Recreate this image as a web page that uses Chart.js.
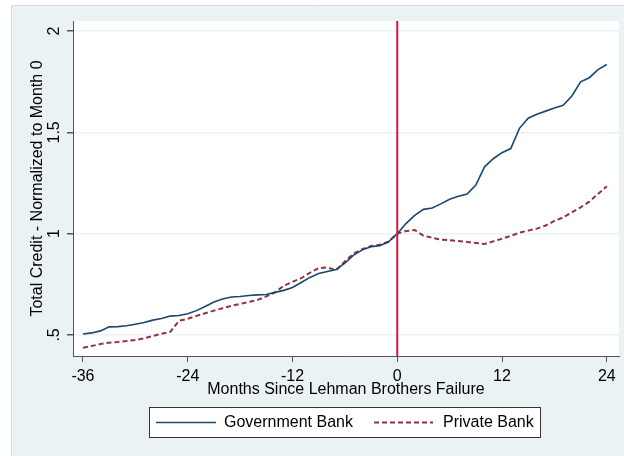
<!DOCTYPE html>
<html>
<head>
<meta charset="utf-8">
<script src="https://cdn.jsdelivr.net/npm/chart.js@4"></script>
<style>
  html, body { margin: 0; padding: 0; background: #fff; }
  canvas { display: block; }
</style>
</head>
<body>
<canvas id="grafico" width="624" height="456"></canvas>
<script>
// dados
const months = [
  -36, -35, -34, -33, -32, -31, -30, -29, -28, -27, -26, -25,
  -24, -23, -22, -21, -20, -19, -18, -17, -16, -15, -14, -13,
  -12, -11, -10, -9, -8, -7, -6, -5, -4, -3, -2, -1,
  0, 1, 2, 3, 4, 5, 6, 7, 8, 9, 10, 11,
  12, 13, 14, 15, 16, 17, 18, 19, 20, 21, 22, 23, 24
];
const govBank = [
  0.505, 0.51, 0.52, 0.54, 0.541, 0.545, 0.553, 0.561, 0.573, 0.581, 0.593, 0.596,
  0.605, 0.62, 0.64, 0.663, 0.677, 0.687, 0.69, 0.695, 0.698, 0.70, 0.71, 0.72,
  0.734, 0.759, 0.784, 0.803, 0.813, 0.823, 0.855, 0.894, 0.92, 0.936, 0.94, 0.96,
  1.0, 1.05, 1.09, 1.12, 1.127, 1.147, 1.17, 1.185, 1.196, 1.24, 1.33, 1.37,
  1.40, 1.42, 1.52, 1.57, 1.59, 1.605, 1.62, 1.634, 1.68, 1.75, 1.77, 1.81, 1.835
];
const privBank = [
  0.437, 0.445, 0.455, 0.462, 0.465, 0.47, 0.475, 0.483, 0.495, 0.506, 0.515, 0.57,
  0.58, 0.594, 0.607, 0.62, 0.632, 0.644, 0.653, 0.663, 0.673, 0.69, 0.71, 0.743,
  0.762, 0.78, 0.807, 0.83, 0.833, 0.82, 0.863, 0.902, 0.924, 0.939, 0.945, 0.96,
  1.0, 1.013, 1.018, 0.99, 0.98, 0.97, 0.968, 0.964, 0.959, 0.954, 0.949, 0.962,
  0.975, 0.989, 1.005, 1.015, 1.025, 1.04, 1.063, 1.08, 1.105, 1.13, 1.158, 1.196, 1.234
];
const xTicks = [-36, -24, -12, 0, 12, 24];
const yTicks = [0.5, 1, 1.5, 2];
const yTickLabels = [".5", "1", "1.5", "2"];
const seriesNames = ["Government Bank", "Private Bank"];
const eventMonth = [0, 0];

const X_MIN = -37.14, X_MAX = 25.4;
const Y_MIN = 0.396, Y_MAX = 2.05;
const FONTE = "'Liberation Sans', Arial, sans-serif";
const FUNDO = "#eaf2f3";

const toPoints = (vals) => vals.map((v, i) => ({ x: months[i], y: v }));

// fundo estilo stata + rotulos do eixo y + legenda
const estiloStata = {
  id: "estiloStata",
  beforeDraw(chart) {
    const { ctx, chartArea } = chart;
    ctx.save();
    ctx.fillStyle = "#fff";
    ctx.fillRect(0, 0, chart.width, chart.height);
    ctx.fillStyle = FUNDO;
    ctx.fillRect(11, 5, chart.width - 11, chart.height - 5);
    ctx.strokeStyle = "#d4dadd";
    ctx.lineWidth = 1;
    ctx.beginPath();
    ctx.moveTo(11.5, chart.height);
    ctx.lineTo(11.5, 5.5);
    ctx.lineTo(chart.width, 5.5);
    ctx.stroke();
    ctx.fillStyle = "#fff";
    ctx.fillRect(chartArea.left, chartArea.top, chartArea.right - chartArea.left, chartArea.bottom - chartArea.top);
    ctx.restore();
  },
  afterDraw(chart) {
    const { ctx } = chart;
    const yScale = chart.scales.y;
    ctx.save();
    ctx.fillStyle = "#000";
    ctx.font = "16px " + FONTE;
    ctx.textAlign = "center";
    ctx.textBaseline = "middle";
    yTicks.forEach((v, i) => {
      const py = yScale.getPixelForValue(v);
      ctx.save();
      ctx.translate(55, py);
      ctx.rotate(-Math.PI / 2);
      ctx.fillText(yTickLabels[i], 0, 0);
      ctx.restore();
    });

    // legenda
    ctx.fillStyle = "#fff";
    ctx.fillRect(149.5, 407.5, 391, 30);
    ctx.strokeStyle = "#333";
    ctx.lineWidth = 1;
    ctx.strokeRect(149.5, 407.5, 391, 30);
    const itens = [
      { ds: chart.data.datasets[0], x0: 156, x1: 216, tx: 224 },
      { ds: chart.data.datasets[1], x0: 374, x1: 433, tx: 443 },
    ];
    itens.forEach((it) => {
      ctx.save();
      ctx.strokeStyle = it.ds.borderColor;
      ctx.lineWidth = it.ds.borderWidth;
      ctx.setLineDash(it.ds.borderDash || []);
      ctx.beginPath();
      ctx.moveTo(it.x0, 422.5);
      ctx.lineTo(it.x1, 422.5);
      ctx.stroke();
      ctx.restore();
      ctx.fillStyle = "#000";
      ctx.textAlign = "left";
      ctx.fillText(it.ds.label, it.tx, 423);
    });
    ctx.restore();
  },
};

const grafico = new Chart(document.getElementById("grafico").getContext("2d"), {
  type: "line",
  data: {
    datasets: [
      {
        label: seriesNames[0],
        data: toPoints(govBank),
        borderColor: "#1a476f",
        borderWidth: 1.6,
        pointRadius: 0,
        tension: 0,
        order: 2,
      },
      {
        label: seriesNames[1],
        data: toPoints(privBank),
        borderColor: "#90353b",
        borderWidth: 2,
        borderDash: [5, 3],
        pointRadius: 0,
        tension: 0,
        order: 3,
      },
      {
        label: "evento",
        data: [{ x: eventMonth[0], y: Y_MIN }, { x: eventMonth[1], y: Y_MAX }],
        borderColor: "#d6163f",
        borderWidth: 2,
        pointRadius: 0,
        order: 1,
      },
    ],
  },
  options: {
    responsive: false,
    animation: false,
    layout: { padding: { left: 0, top: 21, right: 5, bottom: 57 } },
    plugins: {
      legend: { display: false },
      tooltip: { enabled: false },
    },
    scales: {
      x: {
        type: "linear",
        min: X_MIN,
        max: X_MAX,
        afterBuildTicks: (s) => { s.ticks = xTicks.map((v) => ({ value: v })); },
        afterFit: (s) => { s.height = 43; },
        grid: { drawOnChartArea: false, drawTicks: true, tickLength: 6, tickColor: "#555" },
        border: { color: "#555", width: 1 },
        ticks: {
          color: "#000",
          font: { family: FONTE, size: 16 },
          padding: 5,
          maxRotation: 0,
          callback: (v) => String(v),
        },
        title: {
          display: true,
          text: "Months Since Lehman Brothers Failure",
          color: "#000",
          font: { family: FONTE, size: 16 },
          padding: { top: 0, bottom: 0 },
        },
      },
      y: {
        type: "linear",
        min: Y_MIN,
        max: Y_MAX,
        afterBuildTicks: (s) => { s.ticks = yTicks.map((v) => ({ value: v })); },
        afterFit: (s) => { s.width = 73; },
        grid: { color: FUNDO, lineWidth: 1.5, drawTicks: true, tickLength: 6, tickColor: "#555" },
        border: { color: "#555", width: 1 },
        ticks: { display: false },
        title: {
          display: true,
          text: "Total Credit - Normalized to Month 0",
          color: "#000",
          font: { family: FONTE, size: 16 },
          padding: { top: 28, bottom: 0 },
        },
      },
    },
  },
  plugins: [estiloStata],
});
</script>
</body>
</html>
